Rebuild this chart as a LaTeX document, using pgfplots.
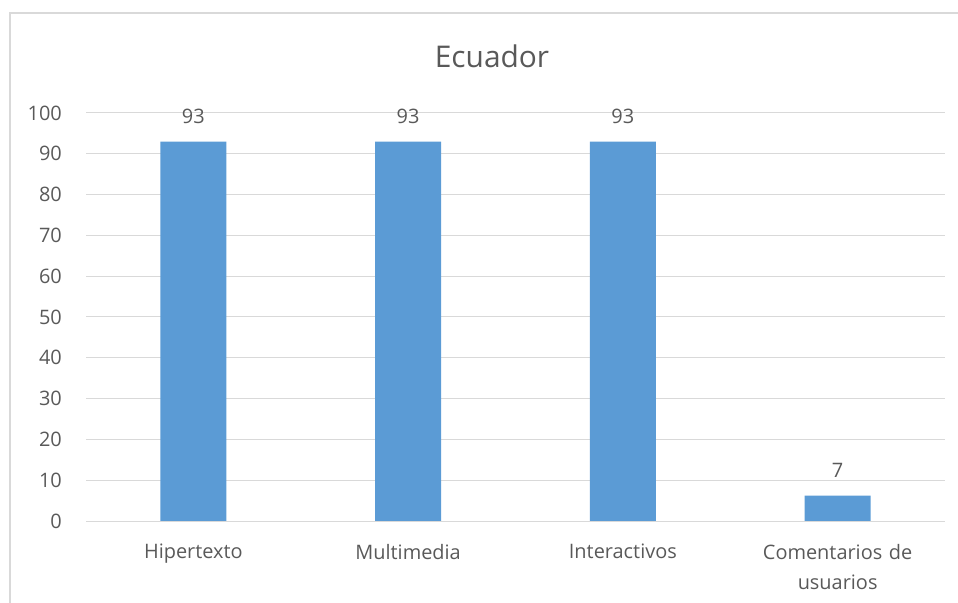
\documentclass[border=0pt]{standalone}
\usepackage{pgfplots}
\pgfplotsset{compat=1.18}
\usepackage{fontspec}
\setmainfont{Open Sans}
\definecolor{barblue}{HTML}{5B9BD5}
\definecolor{txt}{HTML}{595959}
\definecolor{gridc}{HTML}{D9D9D9}
\begin{document}
\begin{tikzpicture}
\path[use as bounding box] (0bp,0bp) rectangle (958bp,603bp);
\draw[gridc, line width=1.2bp] (10bp,-5bp) -- (10bp,590bp) -- (965bp,590bp);
\node[txt, font=\fontsize{30}{36}\selectfont, inner sep=0] at (492bp,547bp) {Ecuador};
\begin{axis}[
  at={(86bp,82bp)}, anchor=south west, scale only axis,
  width=859bp, height=408bp,
  xmin=-0.5, xmax=3.5, ymin=0, ymax=100,
  ytick={0,10,...,100}, xtick={0,1,2,3},
  xticklabels={Hipertexto, Multimedia, Interactivos, {Comentarios de\\usuarios}},
  axis line style={draw=none},
  major tick length=0,
  ymajorgrids, grid style={gridc, line width=1bp},
  /pgf/number format/assume math mode=true,
  tick label style={txt, font=\fontsize{20}{30}\selectfont},
  xticklabel style={anchor=north, inner sep=0, yshift=-23bp, align=center, text width=200bp},
  yticklabel style={anchor=east, inner sep=0, xshift=-24bp},
  ybar, bar width=66bp,
  nodes near coords, point meta=explicit symbolic,
  nodes near coords style={txt, font=\fontsize{20}{24}\selectfont, anchor=south, inner sep=0, yshift=18bp},
]
\addplot[fill=barblue, draw=none] coordinates {(0,93)[93] (1,93)[93] (2,93)[93] (3,6.2)[7]};
\end{axis}
\end{tikzpicture}
\end{document}
